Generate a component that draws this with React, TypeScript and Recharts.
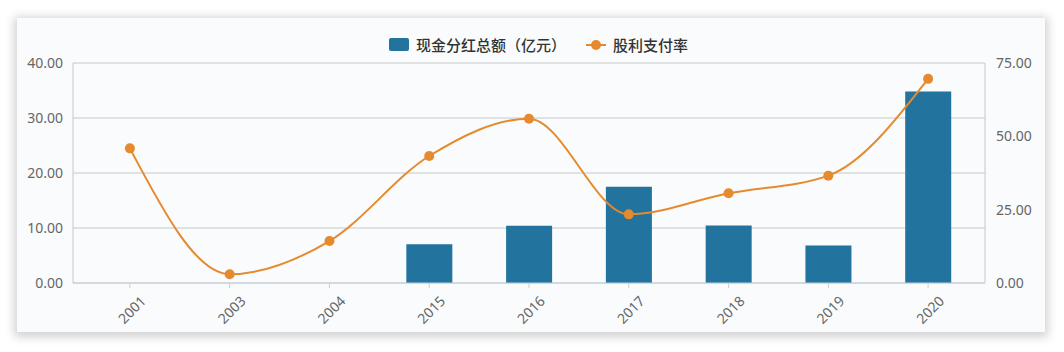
import React from "react"
import {
	ComposedChart,
	Bar,
	Line,
	XAxis,
	YAxis,
	CartesianGrid,
} from "recharts"

const years = ["2001", "2003", "2004", "2015", "2016", "2017", "2018", "2019", "2020"]
// 现金分红总额（亿元）
const dividendTotal = [null, null, null, 7.04, 10.4, 17.5, 10.45, 6.8, 34.8]
// 股利支付率
const payoutRatio = [45.9, 3.0, 14.3, 43.3, 56.0, 23.4, 30.6, 36.6, 69.6]

const leftTicks = [0, 10, 20, 30, 40]
const rightTicks = [0, 25, 50, 75]

const barColor = "#22739e"
const lineColor = "#e68a2e"
const labelFont = "'Noto Sans', 'DejaVu Sans', sans-serif"

const data = years.map((name, i) => ({
	name,
	total: dividendTotal[i],
	ratio: payoutRatio[i],
}))

const fmt = (v: number) => v.toFixed(2)

function ChartLegend() {
	return (
		<div
			style={{
				position: "absolute",
				left: 372,
				top: 16,
				display: "flex",
				alignItems: "center",
				fontFamily: "'Noto Sans CJK SC', sans-serif",
				fontSize: 15,
				fontWeight: 500,
				color: "#333",
				whiteSpace: "nowrap",
			}}
		>
			<span
				style={{
					display: "inline-block",
					width: 20,
					height: 13,
					borderRadius: 2,
					background: barColor,
					marginRight: 7,
				}}
			/>
			<span>现金分红总额（亿元）</span>
			<svg width={22} height={12} style={{ marginLeft: 20, marginRight: 5 }}>
				<line x1={0} y1={6} x2={20} y2={6} stroke={lineColor} strokeWidth={2} />
				<circle cx={10} cy={6} r={5} fill={lineColor} />
			</svg>
			<span>股利支付率</span>
		</div>
	)
}

export default function App() {
	return (
		<div
			style={{
				position: "absolute",
				left: 0,
				top: 0,
				width: 1064,
				height: 352,
				background: "#ffffff",
				overflow: "hidden",
			}}
		>
			<div
				style={{
					position: "absolute",
					left: 17,
					top: 18,
					width: 1028,
					height: 314,
					background: "#f9fbfc",
					boxShadow: "0 2px 9px 3px rgba(0,0,0,0.18)",
				}}
			>
				<ChartLegend />
				<ComposedChart
					width={1028}
					height={314}
					data={data}
					margin={{ top: 45, right: 0, bottom: 0, left: 0 }}
				>
					<CartesianGrid vertical={false} stroke="#c6c9cd" yAxisId="left" />
					<XAxis
						dataKey="name"
						height={49}
						padding={{ left: 7, right: 7 }}
						axisLine={{ stroke: "#c3d2dc" }}
						tickLine={{ stroke: "#c3d2dc" }}
						tickSize={5}
						interval={0}
						angle={-45}
						textAnchor="end"
						dy={5}
						dx={10}
						tick={{ fill: "#666", fontSize: 14, fontFamily: labelFont }}
					/>
					<YAxis
						yAxisId="left"
						width={56}
						domain={[0, 40]}
						ticks={leftTicks}
						tickFormatter={fmt}
						axisLine={{ stroke: "#c6c9cd" }}
						tickLine={false}
						tickSize={0}
						tickMargin={10}
						tick={{ fill: "#666", fontSize: 14, fontFamily: labelFont }}
					/>
					<YAxis
						yAxisId="right"
						orientation="right"
						width={60}
						domain={[0, 75]}
						ticks={rightTicks}
						tickFormatter={fmt}
						axisLine={{ stroke: "#c6c9cd" }}
						tickLine={false}
						tickSize={0}
						tickMargin={11}
						tick={{ fill: "#666", fontSize: 14, fontFamily: labelFont, textAnchor: "start" }}
					/>
					<Bar
						yAxisId="left"
						dataKey="total"
						name="现金分红总额（亿元）"
						fill={barColor}
						barSize={46}
						isAnimationActive={false}
					/>
					<Line
						yAxisId="right"
						type="monotone"
						dataKey="ratio"
						name="股利支付率"
						stroke={lineColor}
						strokeWidth={2}
						dot={{ r: 5, fill: lineColor, stroke: lineColor, strokeWidth: 0 }}
						isAnimationActive={false}
					/>
				</ComposedChart>
			</div>
		</div>
	)
}
